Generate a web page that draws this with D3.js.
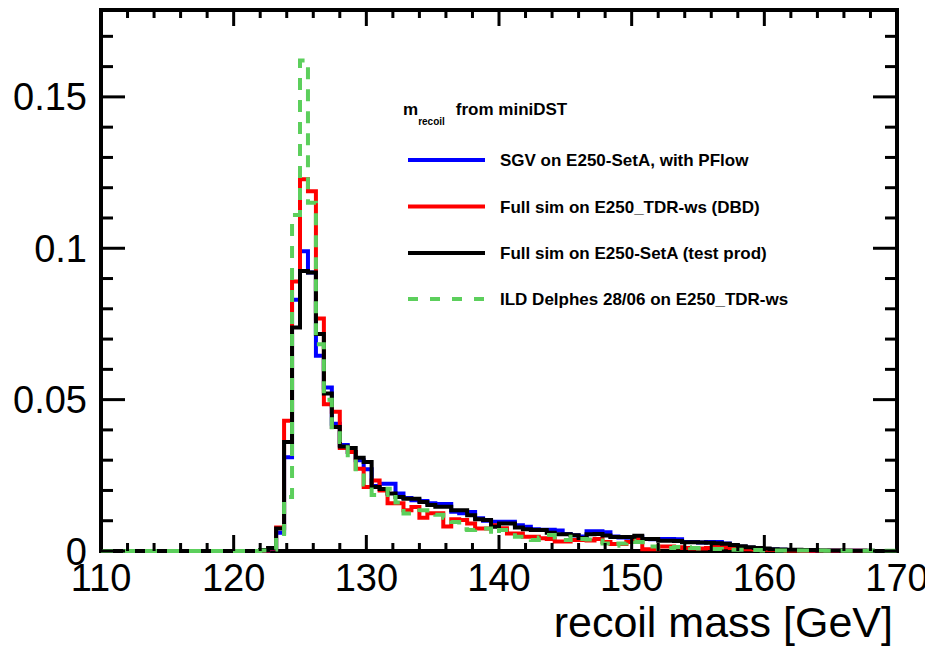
<!DOCTYPE html>
<html><head><meta charset="utf-8">
<script src="https://cdn.jsdelivr.net/npm/d3@7"></script>
<style>
body{margin:0;background:#fff}
svg{display:block}
text{font-family:"Liberation Sans",Arial,Helvetica,sans-serif;fill:#000}
</style>
</head><body>
<svg id="c" width="925" height="647"></svg>
<script>
// ---------- data ----------
const binLow = 110, binHigh = 170, binWidth = 0.6;
const xTickValues = [110, 120, 130, 140, 150, 160, 170];
const xTickLabels = ["110", "120", "130", "140", "150", "160", "170"];
const yTickValues = [0, 0.05, 0.1, 0.15];
const yTickLabels = ["0", "0.05", "0.1", "0.15"];
const yAxisMax = 0.1787;
const xTitle = "recoil mass [GeV]";
const legendNames = ["SGV on E250-SetA, with PFlow", "Full sim on E250_TDR-ws (DBD)",
                     "Full sim on E250-SetA (test prod)", "ILD Delphes 28/06 on E250_TDR-ws"];

const sgv = [
 0,0,0,0,0,0,0,0,0,0, 0,0,0,0,0,0,0,0,0,0,
 0.0002,0.0008,0.006,0.031,0.083,0.099,0.092,0.0645,0.054,0.042,
 0.035,0.0327,0.03,0.027,0.0215,0.0222,0.0222,0.019,0.0175,0.0168,
 0.0165,0.0158,0.0155,0.0155,0.013,0.0125,0.0129,0.0108,0.01,0.0097,
 0.0097,0.0097,0.0085,0.008,0.0072,0.007,0.007,0.0068,0.0056,0.0052,
 0.0048,0.0065,0.0065,0.0062,0.0048,0.0045,0.0044,0.0046,0.004,0.0039,
 0.004,0.004,0.0039,0.003,0.003,0.0028,0.003,0.003,0.0025,0.0018,
 0.0014,0.0011,0.0009,0.0007,0.0005,0.0004,0.0003,0.0003,0.0002,0.0002,
 0.0001,0.0001,0.0001,0.0001,0.0001,0.0001,0,0,0,0];
const fullDBD = [
 0,0,0,0,0,0,0,0,0,0, 0,0,0,0,0,0,0,0,0,0,
 0.0002,0.0008,0.0078,0.043,0.089,0.1228,0.1188,0.0768,0.0485,0.046,
 0.034,0.0327,0.0272,0.0211,0.0233,0.02,0.0158,0.0158,0.0135,0.0145,
 0.011,0.0125,0.0125,0.0081,0.0105,0.0102,0.0091,0.0074,0.0074,0.0085,
 0.0075,0.0058,0.0058,0.0047,0.0047,0.0042,0.004,0.0031,0.0031,0.0036,
 0.0036,0.0035,0.004,0.003,0.0023,0.0023,0.003,0.004,0.0006,0.0006,
 0.0015,0.0015,0.0012,0.001,0.0008,0.0008,0.001,0.0013,0.0012,0.001,
 0.0008,0.0006,0.0005,0.0004,0.0003,0.0003,0.0002,0.0002,0.0001,0.0001,
 0.0001,0.0001,0.0001,0.0001,0.0001,0.0001,0,0,0,0];
const fullSetA = [
 0,0,0,0,0,0,0,0,0,0, 0,0,0,0,0,0,0,0,0,0,
 0.0003,0.001,0.0074,0.036,0.0738,0.0925,0.092,0.0717,0.052,0.041,
 0.0345,0.034,0.0308,0.0294,0.0211,0.0205,0.019,0.0178,0.0173,0.0173,
 0.0162,0.0152,0.0146,0.0146,0.0135,0.0135,0.0118,0.0105,0.0102,0.008,
 0.0091,0.0091,0.0078,0.0072,0.0069,0.0069,0.006,0.0055,0.0055,0.0052,
 0.0043,0.0055,0.0056,0.0051,0.0046,0.0046,0.0046,0.005,0.004,0.004,
 0.0034,0.0034,0.0033,0.0029,0.0029,0.0028,0.0027,0.0026,0.0024,0.002,
 0.0016,0.0012,0.001,0.0008,0.0006,0.0005,0.0004,0.0004,0.0003,0.0003,
 0.0002,0.0002,0.0002,0.0001,0.0001,0.0001,0.0001,0,0,0];
const delphes = [
 0,0,0,0,0,0,0,0,0,0, 0,0,0,0,0,0,0,0,0,0,
 0.0002,0.0005,0.0046,0.0178,0.111,0.162,0.115,0.0683,0.05,0.04,
 0.036,0.0304,0.027,0.022,0.0185,0.0185,0.0206,0.016,0.0124,0.0124,
 0.0135,0.0124,0.012,0.011,0.0096,0.0072,0.0069,0.0074,0.0074,0.0055,
 0.0069,0.0069,0.0047,0.0047,0.0036,0.0045,0.0053,0.0045,0.0036,0.0047,
 0.004,0.0038,0.0035,0.0025,0.0017,0.0025,0.0034,0.003,0.0029,0.0015,
 0.0007,0.001,0.0013,0.0012,0.001,0.0008,0.0007,0.0007,0.0005,0.0004,
 0.0004,0.0003,0.0003,0.0002,0.0002,0.0002,0.0002,0.0002,0.0002,0.0002,
 0.0002,0.0001,0.0001,0.0001,0.0001,0.0001,0.0001,0.0001,0.0001,0.0001];

// ---------- layout ----------
const svg = d3.select("#c");
const L = 101, R = 897, T = 10, B = 551;
const x = d3.scaleLinear().domain([binLow, binHigh]).range([L, R]);
const y = d3.scaleLinear().domain([0, yAxisMax]).range([B, T]);

// frame
svg.append("rect").attr("x", L).attr("y", T).attr("width", R - L).attr("height", B - T)
  .attr("fill", "none").attr("stroke", "#000").attr("stroke-width", 4);

// clip
svg.append("clipPath").attr("id", "clip").append("rect")
  .attr("x", L).attr("y", T).attr("width", R - L).attr("height", B - T + 3);

// histograms
const series = [
  {vals: sgv, color: "#0000ff", dash: null},
  {vals: fullDBD, color: "#ff0000", dash: null},
  {vals: fullSetA, color: "#000000", dash: null},
  {vals: delphes, color: "#5ccf5c", dash: "12,10"}
];
const line = d3.line().x(d => x(d[0])).y(d => y(d[1])).curve(d3.curveStepAfter);
const gH = svg.append("g").attr("clip-path", "url(#clip)");
series.forEach(s => {
  const pts = s.vals.map((v, i) => [binLow + i * binWidth, v]);
  pts.push([binHigh, s.vals[s.vals.length - 1]]);
  gH.append("path").attr("d", line(pts)).attr("fill", "none")
    .attr("stroke", s.color).attr("stroke-width", 4)
    .attr("stroke-dasharray", s.dash);
});

// ticks
const xMinor = d3.range(binLow, binHigh + 0.001, 2);
const yMinor = d3.range(0, yAxisMax, 0.01);
const gT = svg.append("g").attr("stroke", "#000").attr("stroke-width", 3);
xMinor.forEach(v => {
  const major = xTickValues.some(t => Math.abs(t - v) < 1e-6);
  const len = major ? 16 : 8;
  gT.append("line").attr("x1", x(v)).attr("x2", x(v)).attr("y1", B).attr("y2", B - len);
  gT.append("line").attr("x1", x(v)).attr("x2", x(v)).attr("y1", T).attr("y2", T + len);
});
yMinor.forEach(v => {
  const major = yTickValues.some(t => Math.abs(t - v) < 1e-6);
  const len = major ? 24 : 12;
  gT.append("line").attr("x1", L).attr("x2", L + len).attr("y1", y(v)).attr("y2", y(v));
  gT.append("line").attr("x1", R).attr("x2", R - len).attr("y1", y(v)).attr("y2", y(v));
});

// tick labels
xTickValues.forEach((v, i) => {
  svg.append("text").attr("x", x(v)).attr("y", 591).attr("text-anchor", "middle")
    .attr("font-size", 38).text(xTickLabels[i]);
});
yTickValues.forEach((v, i) => {
  svg.append("text").attr("x", 87).attr("y", y(v) + 13.5).attr("text-anchor", "end")
    .attr("font-size", 38).text(yTickLabels[i]);
});
svg.append("text").attr("x", 893).attr("y", 637).attr("text-anchor", "end")
  .attr("font-size", 43).text(xTitle);

// legend
const lt = svg.append("text").attr("x", 403).attr("y", 115).attr("font-size", 17).attr("font-weight", "bold");
lt.append("tspan").text("m");
lt.append("tspan").attr("font-size", 10).attr("dy", 10).text("recoil");
lt.append("tspan").attr("dy", -10).attr("dx", 11).text("from miniDST");

const rowY = [160, 206.5, 253, 299];
series.forEach((s, i) => {
  svg.append("line").attr("x1", 408).attr("x2", 485).attr("y1", rowY[i]).attr("y2", rowY[i])
    .attr("stroke", s.color).attr("stroke-width", 4).attr("stroke-dasharray", s.dash ? "10,12" : null);
  svg.append("text").attr("x", 500).attr("y", rowY[i] + 6).attr("font-size", 17)
    .attr("font-weight", "bold").text(legendNames[i]);
});
</script>
</body></html>
